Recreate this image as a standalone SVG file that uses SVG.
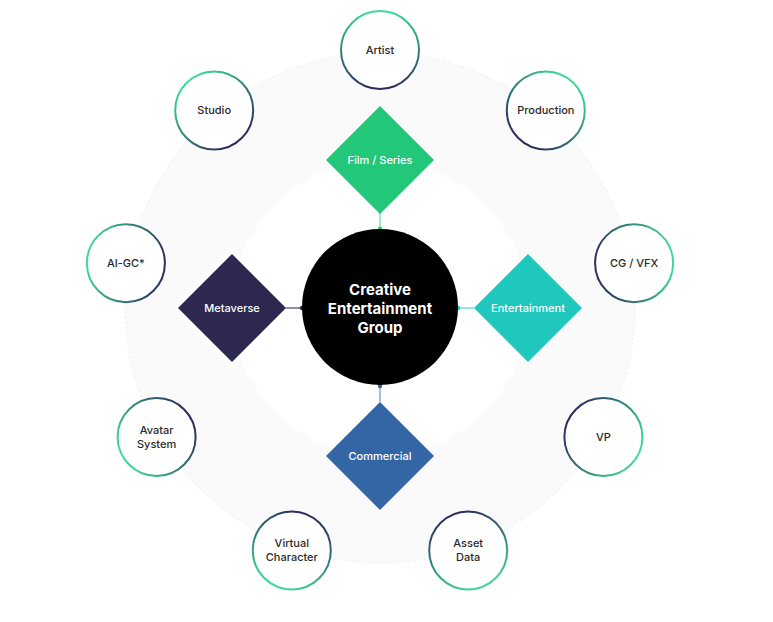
<svg xmlns="http://www.w3.org/2000/svg" width="773" height="622" viewBox="0 0 773 622">
<style>
.lbl{font-family:Inter,"Liberation Sans",Arial,sans-serif;font-size:11px;font-weight:500;fill:#2a2a2a;text-anchor:middle;dominant-baseline:central}
.dlbl{font-family:Inter,"Liberation Sans",Arial,sans-serif;font-size:11px;font-weight:500;fill:#ffffff;text-anchor:middle;dominant-baseline:central}
.clbl{font-family:Inter,"Liberation Sans",Arial,sans-serif;font-size:15px;font-weight:700;fill:#ffffff;text-anchor:middle;dominant-baseline:central}
.node{fill:#ffffff;stroke-width:2}
</style>
<defs>
<linearGradient id="gArtist" gradientUnits="userSpaceOnUse" x1="380" y1="10" x2="380" y2="90"><stop offset="0" stop-color="#3ddc97"/><stop offset="1" stop-color="#2b2a5c"/></linearGradient>
<linearGradient id="gProd" gradientUnits="userSpaceOnUse" x1="571.5" y1="79.8" x2="520.1" y2="141"><stop offset="0" stop-color="#3ddc97"/><stop offset="1" stop-color="#2b2a5c"/></linearGradient>
<linearGradient id="gCG" gradientUnits="userSpaceOnUse" x1="673.5" y1="256.3" x2="594.7" y2="270.1"><stop offset="0" stop-color="#3ddc97"/><stop offset="1" stop-color="#2b2a5c"/></linearGradient>
<linearGradient id="gVP" gradientUnits="userSpaceOnUse" x1="638" y1="457" x2="568.8" y2="417"><stop offset="0" stop-color="#3ddc97"/><stop offset="1" stop-color="#2b2a5c"/></linearGradient>
<linearGradient id="gAsset" gradientUnits="userSpaceOnUse" x1="481.9" y1="588" x2="454.5" y2="512.8"><stop offset="0" stop-color="#3ddc97"/><stop offset="1" stop-color="#2b2a5c"/></linearGradient>
<linearGradient id="gVirt" gradientUnits="userSpaceOnUse" x1="278.1" y1="588" x2="305.5" y2="512.8"><stop offset="0" stop-color="#3ddc97"/><stop offset="1" stop-color="#2b2a5c"/></linearGradient>
<linearGradient id="gAvatar" gradientUnits="userSpaceOnUse" x1="122" y1="457" x2="191.2" y2="417"><stop offset="0" stop-color="#3ddc97"/><stop offset="1" stop-color="#2b2a5c"/></linearGradient>
<linearGradient id="gAIGC" gradientUnits="userSpaceOnUse" x1="86.5" y1="256.3" x2="165.3" y2="270.1"><stop offset="0" stop-color="#3ddc97"/><stop offset="1" stop-color="#2b2a5c"/></linearGradient>
<linearGradient id="gStudio" gradientUnits="userSpaceOnUse" x1="188.5" y1="79.8" x2="239.9" y2="141"><stop offset="0" stop-color="#3ddc97"/><stop offset="1" stop-color="#2b2a5c"/></linearGradient>
</defs>
<rect width="773" height="622" fill="#ffffff"/>
<g id="ring">
<path d="M380,53 A255,255 0 1 1 379.99,53 Z M380,160 A148,148 0 1 0 380.01,160 Z" fill="#fafafa" fill-rule="evenodd"/>
<circle cx="380" cy="308" r="255" fill="none" stroke="#ececec" stroke-width="1" stroke-dasharray="2 3"/>
</g>
<g id="connectors">
<line x1="380" y1="213" x2="380" y2="229" stroke="#7fe3b4" stroke-width="1.5"/>
<circle cx="380" cy="229" r="2.2" fill="#22c77a"/>
<line x1="286" y1="308" x2="302" y2="308" stroke="#6a6790" stroke-width="1.5"/>
<circle cx="302" cy="308" r="2.2" fill="#2c2850"/>
<line x1="458" y1="308" x2="474" y2="308" stroke="#6fdcd5" stroke-width="1.5"/>
<circle cx="458" cy="308" r="2.2" fill="#1fc7bd"/>
<line x1="380" y1="386" x2="380" y2="402" stroke="#86a8d3" stroke-width="1.5"/>
<circle cx="380" cy="386" r="2.2" fill="#3466a6"/>
</g>
<g id="center">
<circle cx="380" cy="307" r="78" fill="#000000"/>
<text class="clbl" x="380" y="289">Creative</text>
<text class="clbl" x="380" y="308">Entertainment</text>
<text class="clbl" x="380" y="327">Group</text>
</g>
<g id="film-series">
<polygon points="380,106 434,160 380,214 326,160" fill="#22c77a"/>
<text class="dlbl" x="380" y="160">Film / Series</text>
</g>
<g id="metaverse">
<polygon points="232,254 286,308 232,362 178,308" fill="#2c2850"/>
<text class="dlbl" x="232" y="308">Metaverse</text>
</g>
<g id="entertainment">
<polygon points="528,254 582,308 528,362 474,308" fill="#1fc7bd"/>
<text class="dlbl" x="528" y="308">Entertainment</text>
</g>
<g id="commercial">
<polygon points="380,402 434,456 380,510 326,456" fill="#3466a6"/>
<text class="dlbl" x="380" y="456">Commercial</text>
</g>
<g id="artist"><circle class="node" cx="380" cy="50" r="39" stroke="url(#gArtist)"/><text class="lbl" x="380" y="50">Artist</text></g>
<g id="production"><circle class="node" cx="545.8" cy="110.4" r="39" stroke="url(#gProd)"/><text class="lbl" x="545.8" y="110.4">Production</text></g>
<g id="cg-vfx"><circle class="node" cx="634.1" cy="263.2" r="39" stroke="url(#gCG)"/><text class="lbl" x="634.1" y="263.2">CG / VFX</text></g>
<g id="vp"><circle class="node" cx="603.4" cy="437" r="39" stroke="url(#gVP)"/><text class="lbl" x="603.4" y="437">VP</text></g>
<g id="asset-data"><circle class="node" cx="468.2" cy="550.4" r="39" stroke="url(#gAsset)"/><text class="lbl" x="468.2" y="543.4">Asset</text><text class="lbl" x="468.2" y="557.4">Data</text></g>
<g id="virtual-character"><circle class="node" cx="291.8" cy="550.4" r="39" stroke="url(#gVirt)"/><text class="lbl" x="291.8" y="543.4">Virtual</text><text class="lbl" x="291.8" y="557.4">Character</text></g>
<g id="avatar-system"><circle class="node" cx="156.6" cy="437" r="39" stroke="url(#gAvatar)"/><text class="lbl" x="156.6" y="430">Avatar</text><text class="lbl" x="156.6" y="444">System</text></g>
<g id="ai-gc"><circle class="node" cx="125.9" cy="263.2" r="39" stroke="url(#gAIGC)"/><text class="lbl" x="125.9" y="263.2">AI-GC*</text></g>
<g id="studio"><circle class="node" cx="214.2" cy="110.4" r="39" stroke="url(#gStudio)"/><text class="lbl" x="214.2" y="110.4">Studio</text></g>
</svg>
